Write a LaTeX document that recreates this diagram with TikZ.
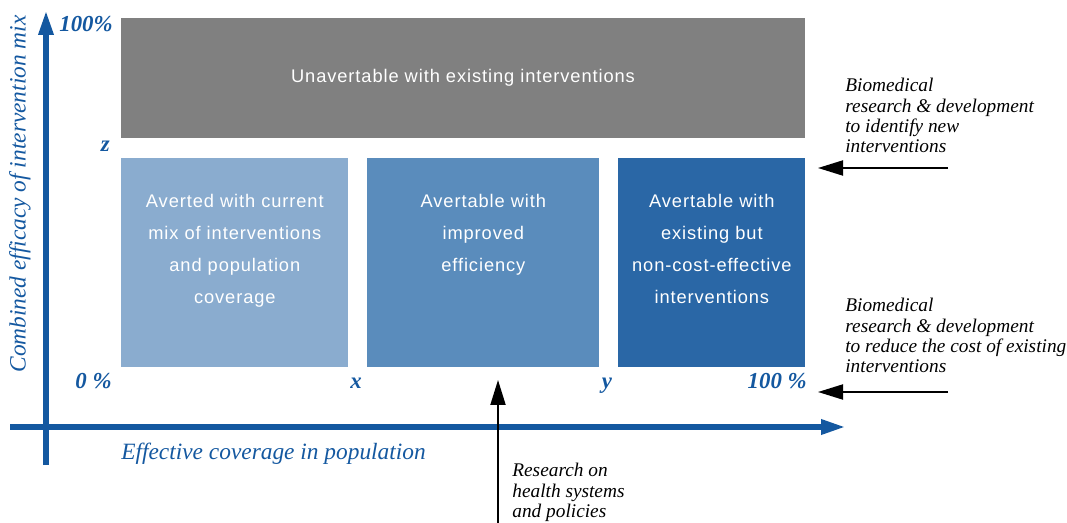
\documentclass[tikz,border=0pt]{standalone}
\usepackage{fontspec}
\setmainfont{Liberation Serif}
\setsansfont{Liberation Sans}
\newfontfamily\boxfont[LetterSpace=5]{Liberation Sans}
\usetikzlibrary{positioning}
\usetikzlibrary{arrows.meta}

\definecolor{axisblue}{HTML}{1458A0}
\definecolor{unavert}{HTML}{808080}
\definecolor{averted}{HTML}{8AACCF}
\definecolor{efficient}{HTML}{5A8CBC}
\definecolor{costly}{HTML}{2A67A6}

\begin{document}
\begin{tikzpicture}[x=0.02cm,y=-0.02cm,
                    box/.style={inner sep=0pt,anchor=north west},
                    inside/.style={text=white,align=center,anchor=north,inner sep=0pt,
                                   font=\boxfont\fontsize{10.4}{18.2}\selectfont},
                    tick/.style={text=axisblue,inner sep=0pt,anchor=base,
                                 font=\bfseries\itshape\fontsize{13}{15}\selectfont},
                    axis label/.style={text=axisblue,inner sep=0pt,
                                       font=\itshape\fontsize{13.3}{16}\selectfont},
                    note/.style={align=left,anchor=north west,inner sep=0pt,
                                 font=\itshape\fontsize{11}{11.6}\selectfont},
                    axis/.style={draw=axisblue,line width=3.4pt,-{Triangle[length=0.5cm,width=0.28cm]}},
                    push/.style={draw=black,line width=1.1pt,-{Triangle[length=0.5cm,width=0.3cm]}}]
\useasboundingbox (0,0) rectangle (1067,523);

% the four regions
\node[box,fill=unavert,minimum width=13.68cm,minimum height=2.4cm] (unav) at (121,18) {};
\node[box,fill=averted,minimum width=4.54cm,minimum height=4.18cm] (current) at (121,158) {};
\node[box,fill=efficient,minimum width=4.64cm,minimum height=4.18cm] (improved) at (367,158) {};
\node[box,fill=costly,minimum width=3.74cm,minimum height=4.18cm] (existing) at (618,158) {};

\node[inside,anchor=center] (unav text) at (463,78) {Unavertable with existing interventions};
\node[inside] (current text) [below=0.72cm of current.north] {Averted with current\\mix of interventions\\and population\\coverage};
\node[inside] (improved text) [below=0.72cm of improved.north] {Avertable with\\improved\\efficiency};
\node[inside] (existing text) [below=0.72cm of existing.north] {Avertable with\\existing but\\non-cost-effective\\interventions};

% axes
\coordinate (y from) at (46,465);
\coordinate (y to) at (46,10);
\coordinate (x from) at (10,427);
\coordinate (x to) at (846,427);
\path[axis] (y from) -- (y to);
\path[axis] (x from) -- (x to);

\node[tick,anchor=base east] (top) at (113,32) {100\%};
\node[tick,anchor=base east] (z) at (110,152) {z};
\node[tick,anchor=base east] (zero) at (112,388) {0 \%};
\node[tick] (x) at (356,388) {x};
\node[tick] (y) at (607,388) {y};
\node[tick,anchor=base east] (full) at (807,388) {100 \%};

\node[axis label,rotate=90] (ylab) at (20,194) {Combined efficacy of intervention mix};
\node[axis label,anchor=base west] (xlab) at (121,459) {Effective coverage in population};

% research that moves the frontier
\node[note] (new) at (845,78) {Biomedical\\research \& development\\to identify new\\interventions};
\node[note] (cheap) at (845,298) {Biomedical\\research \& development\\to reduce the cost of existing\\interventions};
\node[note] (systems) at (512,463) {Research on\\health systems\\and policies};

\coordinate (new from) at (948,168);
\coordinate (new to) at (818,168);
\coordinate (cheap from) at (948,392);
\coordinate (cheap to) at (818,392);
\coordinate (systems from) at (498,523);
\coordinate (systems to) at (498,380);
\path[push] (new from) -- (new to);
\path[push] (cheap from) -- (cheap to);
\path[push] (systems from) -- (systems to);

\end{tikzpicture}
\end{document}
